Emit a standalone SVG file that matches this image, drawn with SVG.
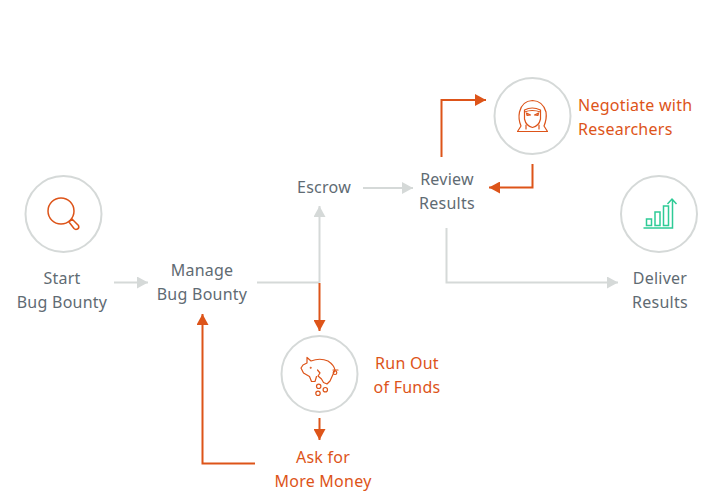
<svg xmlns="http://www.w3.org/2000/svg" width="719" height="502" viewBox="0 0 719 502">
<style>
text{font-family:"Noto Sans","Liberation Sans",sans-serif;font-size:16px;letter-spacing:.25px;text-anchor:middle}
.g{fill:#5f6b73}.o{fill:#dd5419}
.c{fill:#fff;stroke:#d5d9d8;stroke-width:2}
.lg{fill:none;stroke:#d5d9d8;stroke-width:2}
.lo{fill:none;stroke:#dd5419;stroke-width:2}
.i{fill:none;stroke:#dd5419;stroke-width:1.2;stroke-linejoin:round;stroke-linecap:round}
.m{stroke-width:1.5}
.t{fill:none;stroke:#2ecb96;stroke-width:1.5}
</style>
<defs>
<marker id="ag" markerUnits="userSpaceOnUse" markerWidth="12" markerHeight="12" refX="11" refY="6" orient="auto"><path d="M0 0L11 6L0 12z" fill="#d5d9d8"/></marker>
<marker id="ao" markerUnits="userSpaceOnUse" markerWidth="12" markerHeight="12" refX="11" refY="6" orient="auto"><path d="M0 0L11 6L0 12z" fill="#dd5419"/></marker>
</defs>
<g id="connectors">
<path class="lg" marker-end="url(#ag)" d="M114 282.500H148"/>
<path class="lg" d="M257 282.500H319.500"/>
<path class="lg" marker-end="url(#ag)" d="M319.500 282.500V206"/>
<path class="lg" marker-end="url(#ag)" d="M363 188H413"/>
<path class="lg" marker-end="url(#ag)" d="M446.500 228V282.500H618"/>
<path class="lo" marker-end="url(#ao)" d="M319.500 283V331"/>
<path class="lo" marker-end="url(#ao)" d="M319.500 418V440"/>
<path class="lo" marker-end="url(#ao)" d="M255 463.500H202.500V314"/>
<path class="lo" marker-end="url(#ao)" d="M441.500 157V100H486"/>
<path class="lo" marker-end="url(#ao)" d="M532.500 164V187.500H489"/>
</g>
<g id="start"><circle class="c" cx="63.500" cy="214" r="38"/>
<circle class="i m" cx="61" cy="211" r="13"/><path class="i m" d="M69 222L72 219L78.500 225.500Q79.500 228 77.500 229Q75.500 230 74 228.500Z"/>
<text class="g" x="62" y="284">Start</text><text class="g" x="62" y="308">Bug Bounty</text></g>
<g id="manage"><text class="g" x="202" y="276">Manage</text><text class="g" x="202" y="300">Bug Bounty</text></g>
<g id="escrow"><text class="g" x="324" y="193">Escrow</text></g>
<g id="review"><text class="g" x="447" y="185">Review</text><text class="g" x="447" y="209">Results</text></g>
<g id="negotiate"><circle class="c" cx="532.500" cy="116" r="38"/>
<path class="i" d="M517.500 131.500L521 126Q518 119 519.500 112Q522 101 532.500 100.500Q543 101 546 112Q547 119 544 126L547.500 131.500Z"/>
<path class="i" d="M524.500 110Q532 106 540.500 110V119Q539 126 532.500 127.500Q526 126 524.500 119Z"/>
<path class="i" d="M524.500 112Q532 109 540.500 112M526.500 113L530.500 115L527 115.500ZM538.500 113L534.500 115L538 115.500Z"/>
<path class="i" d="M526 125V129M539 125V129"/>
<text class="o" x="578" y="111" style="text-anchor:start">Negotiate with</text><text class="o" x="578" y="135" style="text-anchor:start">Researchers</text></g>
<g id="deliver"><circle class="c" cx="659" cy="214" r="38"/>
<path class="t" d="M643.500 228H672.500V199M667.500 204L672 199L676.500 204"/>
<rect class="t" x="646.500" y="219" width="5" height="6.500"/><rect class="t" x="655" y="212" width="5" height="13.500"/><rect class="t" x="663.500" y="206" width="5" height="19.500"/>
<text class="g" x="660" y="284">Deliver</text><text class="g" x="660" y="308">Results</text></g>
<g id="funds"><circle class="c" cx="319.500" cy="374" r="38"/>
<path class="i" d="M307 357.500L311 361Q320 357.500 328 361Q334 365 335 370L330 381L327 384L323.500 382.500L321.500 379L318 376L320 373L317.500 370M316.500 376.500L315 381.500L311.500 381.500L309.500 376.500L303.500 373L301 368L303 365L307 363L307 357.500"/>
<path class="i" d="M333 370H338"/><circle class="i" cx="335" cy="372.700" r="1.800"/><circle class="i" cx="310.700" cy="367.700" r=".4"/>
<circle class="i" cx="318.700" cy="386.300" r="2.200"/><circle class="i" cx="325.300" cy="389.700" r="2.200"/><circle class="i" cx="318" cy="393.300" r="2.200"/>
<text class="o" x="407" y="369">Run Out</text><text class="o" x="407" y="393">of Funds</text></g>
<g id="ask"><text class="o" x="323" y="463">Ask for</text><text class="o" x="323" y="487">More Money</text></g>
</svg>
